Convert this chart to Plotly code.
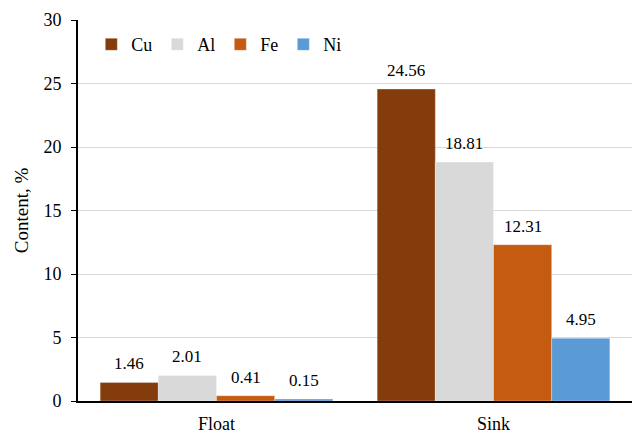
import plotly.graph_objects as go

categories = ["Float", "Sink"]
elements = ["Cu", "Al", "Fe", "Ni"]
values = {
    "Cu": [1.46, 24.56],
    "Al": [2.01, 18.81],
    "Fe": [0.41, 12.31],
    "Ni": [0.15, 4.95],
}
colors = {"Cu": "#843C0C", "Al": "#D9D9D9", "Fe": "#C55A11", "Ni": "#5B9BD5"}
y_ticks = [0, 5, 10, 15, 20, 25, 30]

FONT = "Liberation Serif, Times New Roman, serif"
BARGAP = 0.16

fig = go.Figure()
for el in elements:
    fig.add_trace(go.Bar(
        name=el,
        x=categories,
        y=values[el],
        marker=dict(color=colors[el], line=dict(color="rgba(255,255,255,0.6)", width=0.5)),
        cliponaxis=False,
    ))

# value labels above each bar, centred on the bar slot of the grouped layout
n = len(elements)
slot = (1 - BARGAP) / n
for k, el in enumerate(elements):
    offset = -(1 - BARGAP) / 2 + slot * (k + 0.5)
    for i, v in enumerate(values[el]):
        fig.add_annotation(
            x=i + offset, y=v, xref="x", yref="y",
            text=f"{v:.2f}", showarrow=False,
            yanchor="bottom", yshift=7,
            font=dict(family=FONT, size=17, color="#000000"),
        )

fig.update_layout(
    barmode="group",
    bargap=BARGAP,
    bargroupgap=0,
    width=633,
    height=433,
    margin=dict(l=78, r=1, t=20, b=32, autoexpand=False),
    paper_bgcolor="white",
    plot_bgcolor="white",
    font=dict(family=FONT, size=17, color="#000000"),
    legend=dict(
        orientation="h",
        x=0.024, y=0.984,
        xanchor="left", yanchor="top",
        bgcolor="rgba(0,0,0,0)",
        font=dict(family=FONT, size=18),
        traceorder="normal",
        itemwidth=30,
    ),
    showlegend=True,
)
fig.update_xaxes(
    showline=True, linecolor="#000000", linewidth=2,
    ticks="", tickfont=dict(family=FONT, size=18),
    ticklabelstandoff=5, automargin=False,
    showgrid=False,
)
fig.update_yaxes(
    range=[0, 30],
    tickvals=y_ticks,
    showline=True, linecolor="#000000", linewidth=2,
    ticks="outside", ticklen=5, tickcolor="#000000",
    ticklabelstandoff=6, automargin=False,
    showgrid=True, gridcolor="#D9D9D9", gridwidth=1,
    zeroline=False,
    tickfont=dict(family=FONT, size=18),
    title=dict(text="Content, %", font=dict(family=FONT, size=19), standoff=10),
)

fig.write_html("out.html")
